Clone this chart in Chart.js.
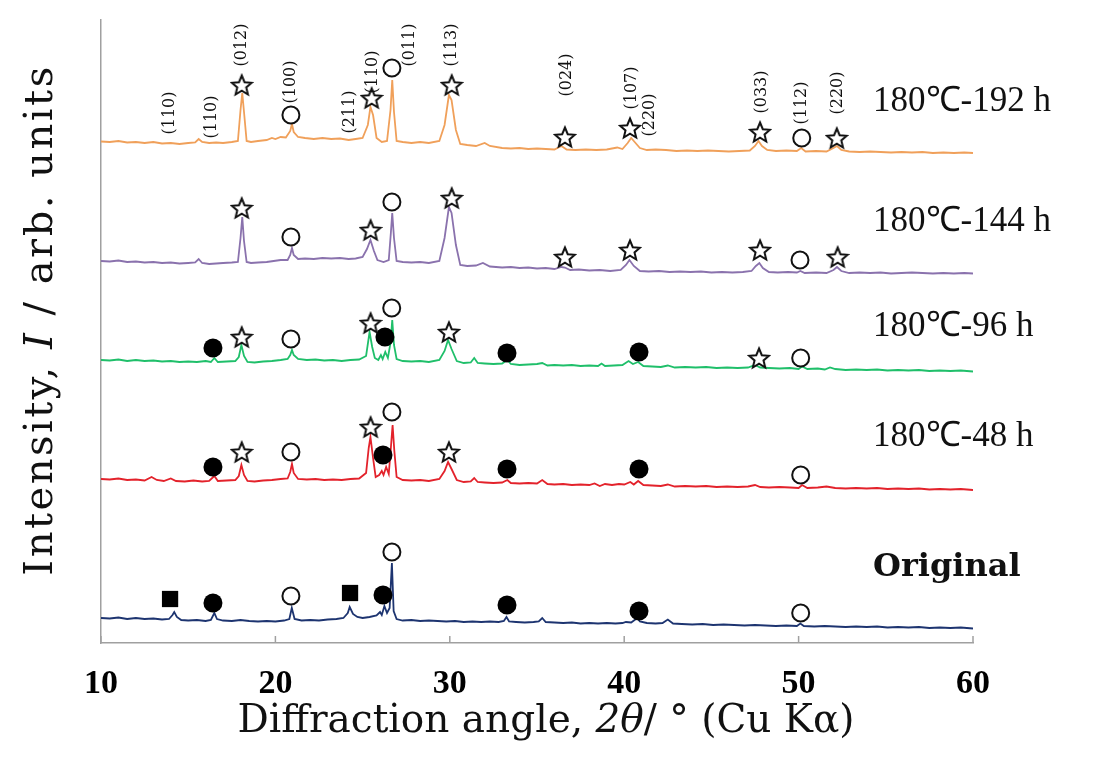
<!DOCTYPE html>
<html>
<head>
<meta charset="utf-8">
<script src="https://cdn.jsdelivr.net/npm/chart.js@4.4.0/dist/chart.umd.min.js"></script>
<style>
  body { margin: 0; background: #fff; }
  #wrap { width: 1094px; height: 760px; }
</style>
</head>
<body>
<div id="wrap"><canvas id="xrd" width="1094" height="760"></canvas></div>
<script>
// scans: [2theta, intensity (arb., offset per sample)]
const scan192 = [[10,501.5],[10.5,501],[11,502],[11.5,500.5],[12,501],[12.5,500],[13,501],[13.5,499.5],[14,500],[14.5,499],[15,500],[15.4,500.5],[15.6,504],[15.8,501],[16.2,500],[16.6,500.5],[17,500],[17.5,501],[17.85,502],[18,533],[18.1,550],[18.2,531],[18.35,502],[18.6,501],[19,502],[19.5,503],[19.8,505],[20,504],[20.3,506],[20.6,505.5],[20.85,512],[20.95,519],[21.05,511],[21.3,506],[21.7,505],[22.2,504],[22.7,505],[23.2,504],[23.7,504.5],[24.2,503],[24.6,504],[25,505],[25.3,518],[25.45,536],[25.6,528],[25.8,505],[26.1,501],[26.4,502],[26.6,533],[26.7,563],[26.8,531],[26.95,502],[27.3,501],[27.8,500],[28.3,501],[28.8,500],[29.4,502],[29.7,518],[29.95,548],[30.1,543],[30.35,513],[30.6,499],[31,498],[31.5,497],[32,500],[32.3,497],[33,495],[33.5,494.5],[34,495],[34.5,494],[35,494.5],[35.5,494],[36,493.5],[36.4,497],[36.7,493.5],[37.2,493],[37.8,493.5],[38.4,493],[39,493.5],[39.6,495.5],[39.9,494],[40.2,500],[40.4,505],[40.6,501],[40.9,495],[41.3,493],[41.8,493.5],[42.4,493],[43,492],[43.6,492.5],[44.2,492],[44.8,492.5],[45.4,492],[46,491.5],[46.6,492],[47.2,492.5],[47.5,497],[47.7,502],[47.9,497],[48.2,493],[48.7,492],[49.3,492.5],[49.9,492],[50.15,495],[50.4,491.5],[51,492],[51.6,491.5],[52,495],[52.2,497],[52.45,493],[52.9,491.5],[53.5,491],[54.1,491.5],[54.7,491],[55.3,490.5],[55.9,491],[56.5,490.5],[57.1,491],[57.7,490],[58.3,490.5],[58.9,490],[59.5,490.5],[60,490]];

const scan144 = [[10,382],[10.5,381.5],[11,382.5],[11.5,381],[12,381.5],[12.5,380.5],[13,381],[13.5,380],[14,380.5],[14.5,379.5],[15,380],[15.4,380.5],[15.6,384],[15.8,380],[16.2,379],[16.6,379.5],[17,380],[17.5,380.5],[17.85,381],[18,405],[18.1,426],[18.2,402],[18.35,381],[18.6,380],[19,380.5],[19.5,381],[19.9,382],[20.3,383],[20.7,383],[20.85,388],[20.95,395],[21.05,388],[21.3,384],[21.7,384.5],[22.2,384],[22.7,385],[23.2,384.5],[23.7,385],[24.2,384],[24.6,384.5],[25,386],[25.25,394],[25.45,403],[25.65,392],[25.85,383],[26.2,381],[26.5,383],[26.62,410],[26.7,430],[26.8,405],[26.95,382],[27.3,381],[27.8,380.5],[28.3,381],[28.8,380],[29.4,382],[29.7,405],[29.95,436],[30.1,430],[30.35,398],[30.6,378],[31,377],[31.5,377.5],[31.9,380],[32.3,376.5],[33,375.5],[33.5,376],[34,375],[34.5,375.5],[35,374.5],[35.5,375],[36,374],[36.4,376],[36.6,375.5],[36.9,373],[37.4,373.5],[38,372.5],[38.6,373],[39.2,372],[39.8,373],[40.1,378],[40.3,383],[40.55,377],[40.9,372],[41.4,371.5],[42,372],[42.6,371],[43.2,371.5],[43.8,371],[44.4,371.5],[45,370.5],[45.6,371],[46.2,370.5],[46.8,371],[47.3,372],[47.55,377],[47.75,380],[47.95,375],[48.3,371],[48.8,370.5],[49.4,371],[49.9,370.5],[50.1,372],[50.35,370],[51,370.5],[51.6,370],[52,373],[52.2,376],[52.45,372],[52.9,370],[53.5,370.5],[54.1,370],[54.7,370.5],[55.3,369.5],[55.9,370],[56.5,370.5],[57.1,370],[57.7,369.5],[58.3,370],[58.9,369.5],[59.5,370],[60,369.5]];

const scan96 = [[10,283],[10.5,282.5],[11,283.5],[11.5,282],[12,283],[12.5,282],[13,282.5],[13.5,281.5],[14,282],[14.5,281],[15,281.5],[15.5,281],[16,282],[16.3,281],[16.5,285],[16.7,281],[17.2,281.5],[17.7,282],[17.9,286],[18.05,298],[18.2,287],[18.4,281],[18.8,280.5],[19.3,281.5],[19.8,282],[20.3,283],[20.7,284],[20.85,288],[20.95,293],[21.05,288],[21.3,284],[21.8,283],[22.3,283.5],[22.8,282.5],[23.3,283],[23.8,282],[24.3,283],[24.8,283.5],[25.2,287],[25.4,311],[25.55,296],[25.7,285],[25.9,283],[26.05,288],[26.15,284],[26.3,291],[26.45,285],[26.6,300],[26.7,323],[26.8,298],[26.95,284],[27.3,282],[27.8,281.5],[28.3,282],[28.8,281],[29.4,283],[29.7,292],[29.9,303],[30.1,294],[30.4,282],[30.8,280],[31.2,280.5],[31.4,285],[31.6,280],[32,279.5],[32.5,279],[33,279.5],[33.3,283],[33.5,279],[34,278],[34.5,278.5],[35,279],[35.3,280],[35.6,277.5],[36,278],[36.5,277.5],[37,278],[37.5,277],[38,277.5],[38.5,277],[38.7,279.5],[38.9,277],[39.4,277.5],[39.9,278],[40.25,282],[40.5,279],[40.8,281],[41.1,277],[41.6,276.5],[42.1,276],[42.5,277.5],[42.9,275.5],[43.5,276],[44.1,275.5],[44.7,276],[45.3,275],[45.9,275.5],[46.5,275],[47.1,275.5],[47.5,278],[47.8,275.5],[48.3,275],[48.9,274.5],[49.5,275],[50,274],[50.2,276.5],[50.5,274],[51.1,274.5],[51.5,273.5],[51.8,275.5],[52.1,274],[52.7,273],[53.3,273.5],[53.9,273],[54.5,273.5],[55.1,272.5],[55.7,273],[56.3,272.5],[56.9,273],[57.5,272],[58.1,272.5],[58.7,272],[59.3,272.5],[60,271.5]];

const scan48 = [[10,164],[10.5,163.5],[11,164.5],[11.5,163],[12,163.5],[12.5,162.5],[12.9,166],[13.2,163],[13.6,162],[14,164.5],[14.3,162],[14.8,161.5],[15.3,162.5],[15.8,161.5],[16.2,162],[16.5,167],[16.7,162],[17.2,162.5],[17.7,163],[17.9,167],[18.05,178],[18.2,168],[18.4,162],[18.8,161.5],[19.3,162.5],[19.8,163],[20.3,164],[20.7,164.5],[20.85,171],[20.95,179],[21.05,170],[21.3,164],[21.8,163.5],[22.3,164],[22.8,163],[23.3,163.5],[23.8,163],[24.3,164],[24.8,164.5],[25.2,170],[25.35,195],[25.45,206],[25.6,185],[25.75,166],[25.95,168],[26.1,172],[26.2,168],[26.35,176],[26.5,169],[26.62,195],[26.72,218],[26.82,192],[26.95,166],[27.3,163],[27.8,162.5],[28.3,163],[28.8,162],[29.4,164],[29.7,172],[29.9,181],[30.1,174],[30.4,163],[30.8,161],[31.2,161.5],[31.4,165],[31.6,161],[32,160.5],[32.5,160],[33,160.5],[33.3,163],[33.5,160],[34,159.5],[34.5,160],[35,159.5],[35.3,163],[35.6,159],[36,158.5],[36.5,159],[37,158],[37.5,158.5],[38,158],[38.3,159.5],[38.6,157],[38.9,159],[39.3,158],[39.7,159],[40,158.5],[40.35,161],[40.55,158.5],[40.8,162],[41.1,158],[41.6,157.5],[42.1,157],[42.5,158.5],[42.9,156.5],[43.5,157],[44.1,156.5],[44.7,157],[45.3,156],[45.9,156.5],[46.5,156],[47.1,156.5],[47.5,158],[47.8,156],[48.3,155.5],[48.9,156],[49.5,155.5],[50,155],[50.2,158],[50.5,155],[51.1,155.5],[51.6,156.5],[52.1,155],[52.7,154.5],[53.3,155],[53.9,154.5],[54.5,155],[55.1,154],[55.7,154.5],[56.3,154],[56.9,154.5],[57.5,153.5],[58.1,154],[58.7,153.5],[59.3,154],[60,153]];

const scanOrig = [[10,25],[10.5,24.5],[11,25.5],[11.5,24],[12,25],[12.5,24],[13,24.5],[13.5,23.5],[13.9,24],[14.1,28],[14.2,31],[14.35,26],[14.6,23],[15,22.5],[15.5,23],[16,22],[16.3,23],[16.5,30],[16.65,24],[17,22.5],[17.5,22],[18,23],[18.5,22],[19,21.5],[19.5,22],[20,21.5],[20.5,22.5],[20.8,24],[20.94,35],[21.1,24],[21.5,22.5],[22,23],[22.5,22.5],[23,23.5],[23.5,24],[23.9,25],[24.15,30],[24.26,36],[24.45,29],[24.7,26],[25,25],[25.4,26],[25.8,27.5],[26,31],[26.1,28],[26.25,37],[26.4,30],[26.55,35],[26.68,80],[26.78,32],[26.95,24],[27.3,22.5],[27.8,23],[28.3,22],[28.8,22.5],[29.3,22],[29.8,21.5],[30.3,22],[30.8,21],[31.3,21.5],[31.8,21],[32.3,21.5],[32.8,21],[33.1,22],[33.25,26],[33.4,21.5],[33.8,21],[34.3,20.5],[34.8,21],[35.1,21.5],[35.3,25],[35.5,21],[36,20.5],[36.5,20],[37,20.5],[37.5,19.5],[38,20],[38.5,19.5],[39,20],[39.5,19.5],[39.9,20],[40.1,21],[40.4,20.5],[40.75,25],[40.9,21.5],[41.3,20],[41.8,19.5],[42.2,20],[42.5,23.5],[42.8,19.5],[43.3,19],[43.9,18.5],[44.5,19],[45.1,18],[45.7,18.5],[46.3,18],[46.9,17.5],[47.5,18],[48.1,17.5],[48.7,17],[49.3,17.5],[49.9,17],[50.1,19.5],[50.3,17],[50.9,16.5],[51.5,17],[52.1,16.5],[52.7,16],[53.3,16.5],[53.9,16],[54.5,16.5],[55.1,15.5],[55.7,16],[56.3,15.5],[56.9,16],[57.5,15],[58.1,15.5],[58.7,15],[59.3,15.5],[60,14.5]];

const sampleNames = ['180℃-192 h', '180℃-144 h', '180℃-96 h', '180℃-48 h', 'Original'];
const nameLevels = [541, 421, 316, 206, 75];
const nameAngle = 54.27;
const xTicks = [10, 20, 30, 40, 50, 60];

// phase markers: [2theta, level]
const starMarks = [[18.07,558],[25.52,545],[30.11,558],[36.6,506],[40.33,515],[47.79,511],[52.19,505],
  [18.07,435],[25.46,413],[30.11,445],[36.6,386],[40.33,393],[47.79,393],[52.24,386],
  [18.07,306],[25.46,320],[29.95,311],[47.73,285],
  [18.07,191],[25.46,216],[29.95,191]];
const openMarks = [[20.89,528],[26.68,575],[50.18,505],
  [20.89,406],[26.68,441],[50.08,383],
  [20.89,304],[26.67,335],[50.12,285],
  [20.89,191],[26.68,231],[50.12,168],
  [20.89,47],[26.68,91],[50.12,30]];
const dotMarks = [[16.42,295],[26.28,306],[33.28,290],[40.85,291],
  [16.42,176],[26.17,188],[33.28,174],[40.85,174],
  [16.42,40],[26.17,48],[33.28,38],[40.85,32]];
const squareMarks = [[13.96,44],[24.28,50]];

// hkl labels on the top scan: [text, 2theta, level]
const hklLabels = [['(110)',13.96,530],['(110)',16.35,526],['(012)',18.07,598],['(100)',20.89,561],
  ['(211)',24.28,531],['(110)',25.6,571],['(011)',27.72,598],['(113)',30.13,598],['(024)',36.72,568],
  ['(107)',40.45,555],['(220)',41.48,528],['(033)',47.9,551],['(112)',50.2,540],['(220)',52.26,550]];

const pts = (arr) => arr.map(([a, v]) => ({ x: a, y: v }));

function starImage(size) {
  const c = document.createElement('canvas');
  c.width = c.height = size;
  const g = c.getContext('2d');
  const cx = size / 2, cy = size / 2 + 1, R = size / 2 - 1.5, r = R * 0.45;
  g.beginPath();
  for (let k = 0; k < 10; k++) {
    const ang = -Math.PI / 2 + k * Math.PI / 5;
    const rr = k % 2 ? r : R;
    g.lineTo(cx + rr * Math.cos(ang), cy + rr * Math.sin(ang));
  }
  g.closePath();
  g.fillStyle = '#fff';
  g.fill();
  g.lineWidth = 2;
  g.strokeStyle = '#111';
  g.stroke();
  return c;
}

function drawRuns(ctx, runs, cx, cy, spacing) {
  ctx.letterSpacing = spacing || '0px';
  let total = 0;
  runs.forEach(r => { ctx.font = r[1]; total += ctx.measureText(r[0]).width; });
  let x = cx - total / 2;
  ctx.textAlign = 'left';
  runs.forEach(r => {
    ctx.font = r[1];
    ctx.fillText(r[0], x, cy);
    x += ctx.measureText(r[0]).width;
  });
  ctx.letterSpacing = '0px';
}

const serif = '"DejaVu Serif"';

const annotations = {
  id: 'annotations',
  afterDatasetsDraw(chart) {
    const { ctx, chartArea } = chart;
    const x = chart.scales.x, y = chart.scales.y;
    ctx.save();
    // inward tick marks
    ctx.strokeStyle = '#a0a0a0';
    ctx.lineWidth = 1.5;
    x.ticks.forEach(t => {
      const px = x.getPixelForValue(t.value);
      ctx.beginPath();
      ctx.moveTo(px, chartArea.bottom);
      ctx.lineTo(px, chartArea.bottom - 7);
      ctx.stroke();
    });
    // hkl labels
    ctx.fillStyle = '#111';
    ctx.textBaseline = 'middle';
    ctx.textAlign = 'center';
    ctx.font = '16px ' + serif;
    hklLabels.forEach(([t, a, v]) => {
      ctx.save();
      ctx.translate(x.getPixelForValue(a), y.getPixelForValue(v));
      ctx.rotate(-Math.PI / 2);
      ctx.fillText(t, 0, 0);
      ctx.restore();
    });
    // sample names
    ctx.textAlign = 'left';
    sampleNames.forEach((n, i) => {
      ctx.font = i === 4 ? 'bold 32px ' + serif : '35px "Liberation Serif"';
      ctx.fillText(n, x.getPixelForValue(nameAngle), y.getPixelForValue(nameLevels[i]));
    });
    // axis titles
    ctx.fillStyle = '#111';
    drawRuns(ctx, [['Diffraction angle, ', '39px ' + serif], ['2θ', 'italic 39px ' + serif],
      ['/ ° (Cu Kα)', '39px ' + serif]], 546, 722);
    ctx.save();
    ctx.translate(42, 320);
    ctx.rotate(-Math.PI / 2);
    drawRuns(ctx, [['Intensity, ', '40px ' + serif], ['I', 'italic 40px ' + serif],
      [' / arb. units', '40px ' + serif]], 0, 0, '2.5px');
    ctx.restore();
    ctx.restore();
  }
};

const lineSet = (label, data, color) => ({
  label, data: pts(data), borderColor: color, borderWidth: 1.8,
  pointRadius: 0, tension: 0, fill: false, order: 2
});

new Chart(document.getElementById('xrd'), {
  type: 'line',
  data: {
    datasets: [
      lineSet(sampleNames[0], scan192, '#f0a05a'),
      lineSet(sampleNames[1], scan144, '#8a72ad'),
      lineSet(sampleNames[2], scan96, '#1fbf6a'),
      lineSet(sampleNames[3], scan48, '#e3222b'),
      lineSet(sampleNames[4], scanOrig, '#1d3470'),
      { label: 'star', type: 'scatter', data: pts(starMarks), pointStyle: starImage(24), order: 0 },
      { label: 'open', type: 'scatter', data: pts(openMarks), pointStyle: 'circle', pointRadius: 8.5,
        backgroundColor: '#fff', borderColor: '#111', borderWidth: 2, order: 0 },
      { label: 'dot', type: 'scatter', data: pts(dotMarks), pointStyle: 'circle', pointRadius: 9.5,
        backgroundColor: '#000', borderColor: '#000', borderWidth: 0, order: 0 },
      { label: 'square', type: 'scatter', data: pts(squareMarks), pointStyle: 'rect', pointRadius: 11.5,
        backgroundColor: '#000', borderColor: '#000', borderWidth: 0, order: 0 }
    ]
  },
  options: {
    responsive: false,
    animation: false,
    layout: { padding: { left: 0, right: 121, top: 20, bottom: 0 } },
    plugins: { legend: { display: false }, tooltip: { enabled: false } },
    scales: {
      x: {
        type: 'linear', min: 10, max: 60,
        afterBuildTicks: (s) => { s.ticks = xTicks.map(v => ({ value: v })); },
        afterFit: (s) => { s.height = 117; },
        grid: { display: false, drawTicks: false },
        border: { display: true, color: '#a0a0a0', width: 1.5 },
        ticks: { color: '#000', padding: 21, maxRotation: 0,
          font: { family: 'Liberation Serif', size: 34, weight: 'bold' } }
      },
      y: {
        type: 'linear', min: 0, max: 623,
        afterFit: (s) => { s.width = 101; },
        grid: { display: false, drawTicks: false },
        border: { display: true, color: '#a0a0a0', width: 1.5 },
        ticks: { display: false }
      }
    }
  },
  plugins: [annotations]
});
</script>
</body>
</html>
